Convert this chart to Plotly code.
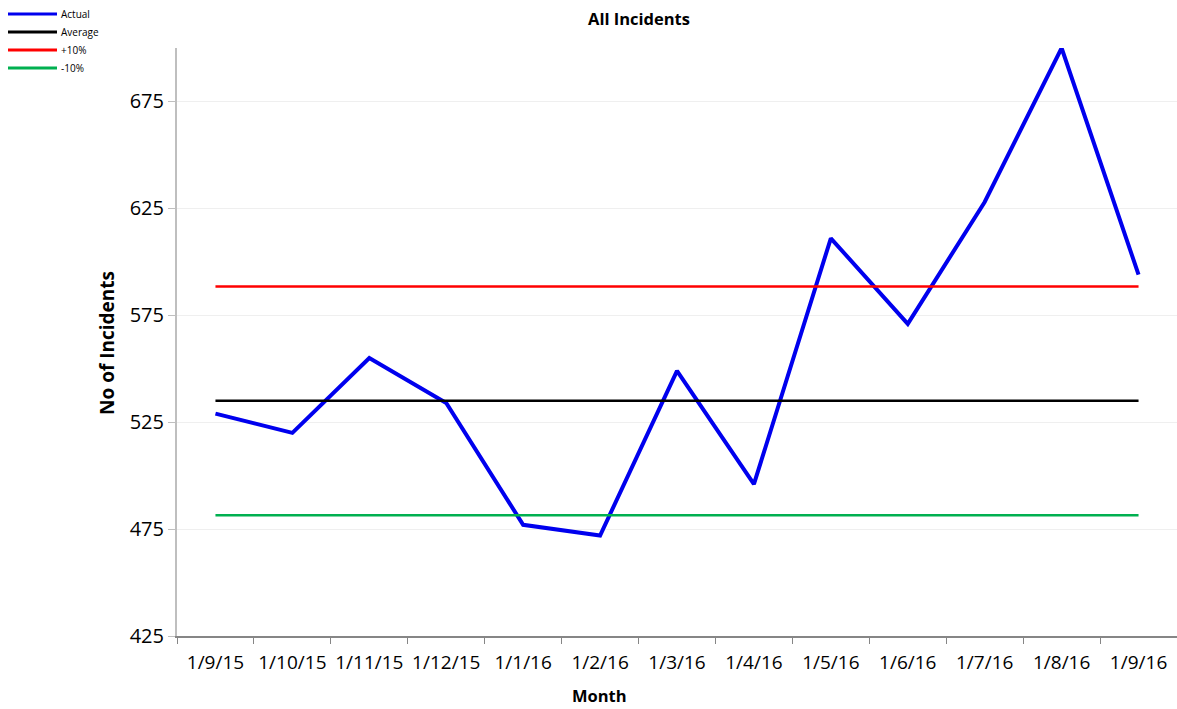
import plotly.graph_objects as go

months = ["1/9/15", "1/10/15", "1/11/15", "1/12/15", "1/1/16", "1/2/16", "1/3/16",
          "1/4/16", "1/5/16", "1/6/16", "1/7/16", "1/8/16", "1/9/16"]
actual = [529, 520, 555, 534, 477, 472, 549, 496, 611, 571, 628, 700, 594]
average = [535] * 13
plus10 = [588.5] * 13
minus10 = [481.5] * 13

FONT = "Open Sans, Liberation Sans, sans-serif"

series = [
    ("Actual", actual, "#0000ee", 4),
    ("Average", average, "#000000", 2.5),
    ("+10%", plus10, "#ff0000", 2.5),
    ("-10%", minus10, "#00b050", 2.5),
]

fig = go.Figure()
for name, vals, color, w in series:
    fig.add_trace(go.Scatter(x=months, y=vals, mode="lines", name=name,
                             line=dict(color=color, width=w), showlegend=False))

# plot area in pixels: x 177..1177, y 48..636
L, R, T, B = 177, 1177, 48, 636
def px(x):
    return (x - L) / (R - L)
def py(y):
    return (B - y) / (B - T)

shapes = []
annotations = []
for i, (name, vals, color, w) in enumerate(series):
    yy = 14 + 18 * i
    shapes.append(dict(type="line", xref="paper", yref="paper",
                       x0=px(8), x1=px(57), y0=py(yy), y1=py(yy),
                       line=dict(color=color, width=3)))
    annotations.append(dict(text=name, xref="paper", yref="paper",
                            x=px(59), y=py(yy), xanchor="left", yanchor="middle",
                            showarrow=False, font=dict(size=10, family=FONT)))

annotations += [
    dict(text="<b>All Incidents</b>", xref="paper", yref="paper",
         x=px(639), y=py(18), xanchor="center", yanchor="middle", showarrow=False,
         font=dict(size=16.5, family=FONT)),
    dict(text="<b>No of Incidents</b>", xref="paper", yref="paper",
         x=px(107), y=py(343), xanchor="center", yanchor="middle", textangle=-90,
         showarrow=False, font=dict(size=19, family=FONT)),
    dict(text="<b>Month</b>", xref="paper", yref="paper",
         x=px(599), y=py(696), xanchor="center", yanchor="middle", showarrow=False,
         font=dict(size=16.5, family=FONT)),
]

fig.update_layout(
    width=1177, height=709,
    margin=dict(l=L, r=1177 - R, t=T, b=709 - B),
    paper_bgcolor="white", plot_bgcolor="white",
    font=dict(family=FONT, color="#000000"),
    showlegend=False,
    xaxis=dict(type="category", range=[-0.5, 12.5], tickson="boundaries",
               ticks="outside", ticklen=6, tickcolor="#868686",
               showline=True, linecolor="#868686", linewidth=2,
               showgrid=False, tickfont=dict(size=19, family=FONT),
               ticklabelstandoff=8, tickangle=0, automargin=False),
    yaxis=dict(range=[425, 700], tickvals=[425, 475, 525, 575, 625, 675],
               ticks="outside", ticklen=7, tickcolor="#bfbfbf",
               showline=True, linecolor="#bfbfbf", linewidth=2,
               showgrid=True, gridcolor="#efefef", gridwidth=1,
               zeroline=False, tickfont=dict(size=20, family=FONT),
               automargin=False),
    shapes=shapes,
    annotations=annotations,
)

fig.write_html("out.html")
